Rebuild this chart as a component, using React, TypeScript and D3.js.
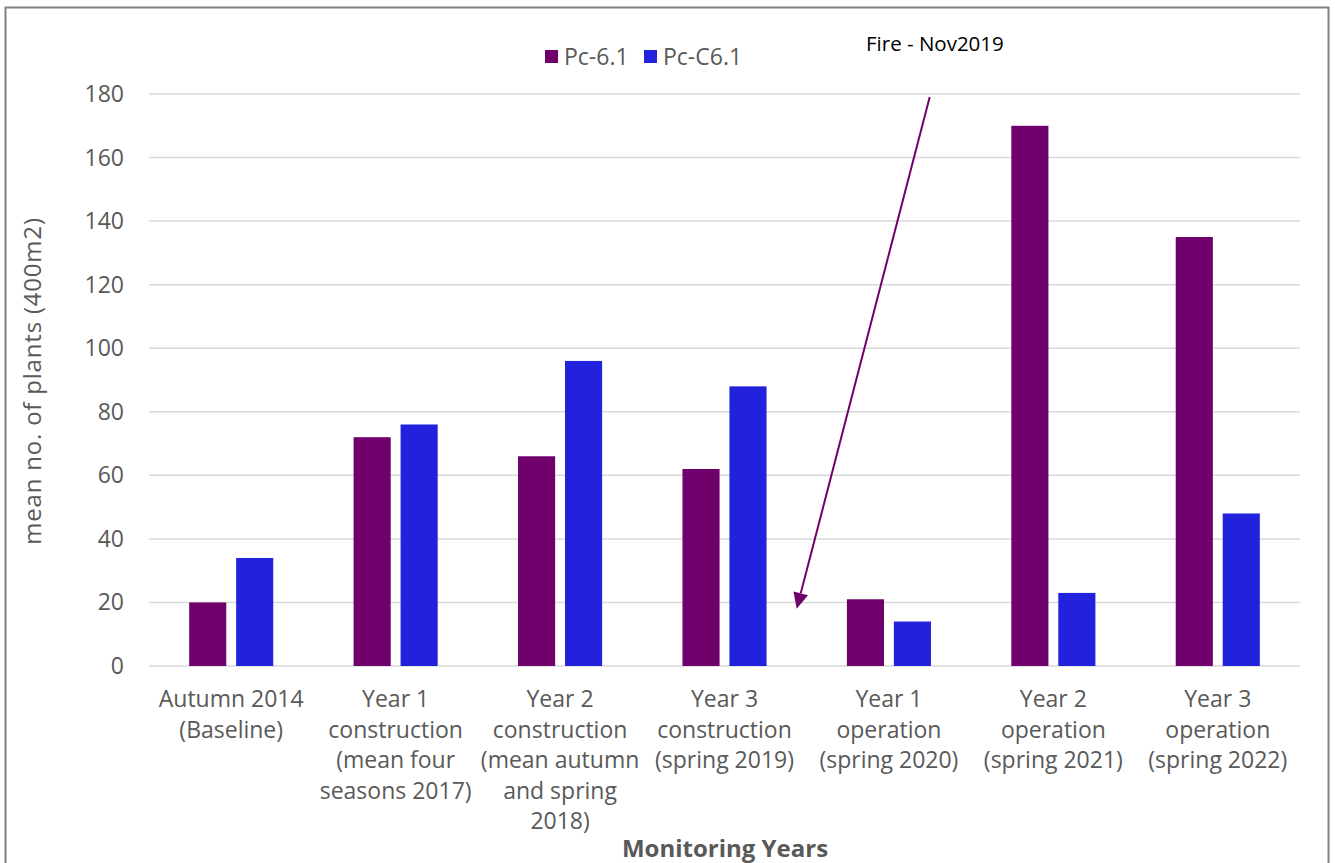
import React from "react";
import * as d3 from "d3";

// Monitoring periods (multi-line axis labels)
const categories: string[][] = [
  ["Autumn 2014", "(Baseline)"],
  ["Year 1", "construction", "(mean four", "seasons 2017)"],
  ["Year 2", "construction", "(mean autumn", "and spring", "2018)"],
  ["Year 3", "construction", "(spring 2019)"],
  ["Year 1", "operation", "(spring 2020)"],
  ["Year 2", "operation", "(spring 2021)"],
  ["Year 3", "operation", "(spring 2022)"],
];

const seriesNames = ["Pc-6.1", "Pc-C6.1"];
const pc61 = [20, 72, 66, 62, 21, 170, 135];
const pcC61 = [34, 76, 96, 88, 14, 23, 48];
const yTicks = [0, 20, 40, 60, 80, 100, 120, 140, 160, 180];

const colors: Record<string, string> = {
  "Pc-6.1": "#70006C",
  "Pc-C6.1": "#2222DD",
};

const W = 1335;
const H = 863;
const FONT = "'Open Sans', 'Noto Sans', sans-serif";
const TEXT = "#595959";
const FS = 23;

export default function App() {
  const keys = categories.map((c) => c.join(" "));
  const x0 = d3.scaleBand<string>().domain(keys).range([149, 1300]).paddingInner(0).paddingOuter(0);
  const x1 = d3
    .scaleBand<string>()
    .domain(seriesNames)
    .range([0, x0.bandwidth()])
    .paddingInner(0.21)
    .paddingOuter(0.855);
  const y = d3.scaleLinear().domain([0, 180]).range([666, 94]);

  const rows = keys.map((k, i) => ({ key: k, values: [pc61[i], pcC61[i]] }));

  // Annotation arrow: from under the label down into the gap before Year 1 operation
  const fireBand = x0(keys[4])!;
  const arrowStart: [number, number] = [fireBand + 123, y(180) + 3];
  const arrowEnd: [number, number] = [fireBand - 10, y(18)];
  const ang = Math.atan2(arrowEnd[1] - arrowStart[1], arrowEnd[0] - arrowStart[0]);
  const headLen = 16;
  const headW = 7.5;
  const bx = arrowEnd[0] - headLen * Math.cos(ang);
  const by = arrowEnd[1] - headLen * Math.sin(ang);
  const px = -Math.sin(ang) * headW;
  const py = Math.cos(ang) * headW;
  const head = `M${arrowEnd[0]},${arrowEnd[1]}L${bx + px},${by + py}L${bx - px},${by - py}Z`;

  return (
    <svg
      width={W}
      height={H}
      style={{ position: "absolute", left: 0, top: 0, background: "#fff" }}
      fontFamily={FONT}
    >
      <rect x={5.5} y={7.5} width={1323} height={880} fill="#fff" stroke="#808080" strokeWidth={2} />

      {/* gridlines and y tick labels */}
      {yTicks.map((t) => (
        <g key={t}>
          <line x1={149} x2={1300} y1={y(t)} y2={y(t)} stroke="#d9d9d9" strokeWidth={1.5} />
          <text x={124} y={y(t)} dy="0.35em" textAnchor="end" fontSize={FS} fill={TEXT}>
            {t}
          </text>
        </g>
      ))}

      {/* bars */}
      {rows.map((r) => (
        <g key={r.key} transform={`translate(${x0(r.key)},0)`}>
          {seriesNames.map((s, j) => (
            <rect
              key={s}
              x={x1(s)}
              y={y(r.values[j])}
              width={x1.bandwidth()}
              height={y(0) - y(r.values[j])}
              fill={colors[s]}
            />
          ))}
        </g>
      ))}

      {/* category labels */}
      {categories.map((lines, i) => (
        <text
          key={keys[i]}
          x={x0(keys[i])! + x0.bandwidth() / 2}
          y={707}
          textAnchor="middle"
          fontSize={FS}
          fill={TEXT}
        >
          {lines.map((l, k) => (
            <tspan key={k} x={x0(keys[i])! + x0.bandwidth() / 2} dy={k === 0 ? 0 : 30.5}>
              {l}
            </tspan>
          ))}
        </text>
      ))}

      {/* axis titles */}
      <text
        transform={`translate(41,${381}) rotate(-90)`}
        textAnchor="middle"
        fontSize={FS + 1}
        letterSpacing={0.8}
        fill={TEXT}
      >
        mean no. of plants (400m2)
      </text>
      <text x={725} y={857} textAnchor="middle" fontSize={24} fontWeight="bold" fill={TEXT}>
        Monitoring Years
      </text>

      {/* legend */}
      {seriesNames.map((s, i) => {
        const lx = i === 0 ? 545 : 644;
        return (
          <g key={s}>
            <rect x={lx} y={50} width={13} height={13} fill={colors[s]} />
            <text x={lx + 19} y={57} dy="0.35em" fontSize={FS} fill={TEXT}>
              {s}
            </text>
          </g>
        );
      })}

      {/* fire annotation */}
      <text x={866} y={51} fontSize={20.5} fill="#000">
        Fire - Nov2019
      </text>
      <line
        x1={arrowStart[0]}
        y1={arrowStart[1]}
        x2={bx}
        y2={by}
        stroke="#70006C"
        strokeWidth={2}
      />
      <path d={head} fill="#70006C" />
    </svg>
  );
}
